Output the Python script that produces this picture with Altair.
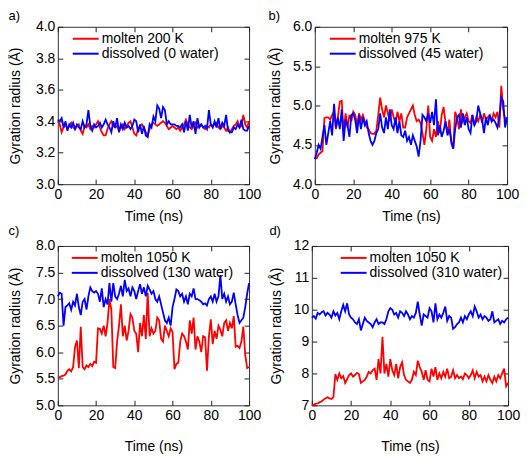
import altair as alt
import pandas as pd

time_ns = list(range(101))

a_molten = [3.40,3.38,3.33,3.36,3.38,3.35,3.37,3.39,3.36,3.35,3.37,3.38,3.34,3.32,3.37,3.36,3.38,3.35,3.37,3.36,
            3.38,3.40,3.36,3.33,3.31,3.31,3.35,3.38,3.40,3.37,3.36,3.37,3.34,3.36,3.38,3.35,3.37,3.39,3.40,3.36,
            3.32,3.31,3.35,3.37,3.38,3.36,3.33,3.31,3.35,3.38,3.39,3.38,3.37,3.38,3.39,3.40,3.39,3.37,3.35,3.36,
            3.37,3.36,3.35,3.36,3.34,3.36,3.38,3.41,3.38,3.36,3.35,3.37,3.39,3.36,3.37,3.38,3.36,3.35,3.37,3.36,
            3.38,3.37,3.38,3.39,3.36,3.35,3.37,3.36,3.34,3.36,3.33,3.35,3.37,3.38,3.40,3.36,3.37,3.44,3.38,3.36,3.40]
a_dissolved = [3.41,3.40,3.42,3.36,3.40,3.34,3.38,3.36,3.39,3.35,3.38,3.36,3.35,3.40,3.36,3.38,3.47,3.37,3.34,3.38,
               3.36,3.37,3.39,3.36,3.38,3.41,3.38,3.36,3.33,3.40,3.36,3.42,3.33,3.38,3.35,3.39,3.36,3.37,3.35,3.37,
               3.41,3.40,3.33,3.38,3.32,3.37,3.31,3.30,3.38,3.36,3.43,3.40,3.50,3.48,3.42,3.49,3.47,3.38,3.40,3.38,
               3.38,3.38,3.37,3.37,3.36,3.38,3.33,3.40,3.34,3.44,3.36,3.40,3.32,3.42,3.36,3.38,3.36,3.37,3.35,3.47,
               3.38,3.36,3.40,3.36,3.42,3.35,3.39,3.37,3.44,3.34,3.33,3.33,3.36,3.35,3.38,3.36,3.41,3.35,3.34,3.34,3.37]

b_molten = [4.32,4.33,4.38,4.40,4.42,4.84,4.85,4.85,4.82,4.88,4.92,4.70,4.85,5.05,5.06,4.65,4.90,4.72,4.88,4.80,
            4.92,4.88,4.75,4.90,4.82,4.88,4.80,4.72,4.70,4.65,4.64,4.64,4.68,4.88,5.10,4.95,4.85,5.00,4.90,4.80,
            4.95,4.85,4.78,4.92,4.80,4.90,4.72,4.72,4.85,4.90,4.95,5.00,4.88,4.80,4.82,4.78,4.65,4.50,4.70,5.00,
            4.60,4.55,4.70,4.60,4.80,4.65,4.88,4.98,4.78,4.65,4.82,4.52,4.45,4.92,4.85,4.70,4.95,4.80,4.85,4.90,
            4.80,4.78,4.88,4.75,4.85,4.80,4.88,4.78,4.90,4.82,4.85,4.88,4.80,4.90,4.85,4.92,4.72,5.25,4.95,4.82,4.85]
b_dissolved = [4.32,4.40,4.50,4.45,4.60,4.75,4.50,4.65,4.80,4.62,5.02,4.72,4.85,4.70,4.95,4.55,4.82,4.75,4.60,4.88,
               4.90,4.82,4.65,4.88,4.70,4.85,4.75,4.80,4.65,4.55,4.50,4.55,4.65,4.70,4.90,4.72,4.65,4.85,4.70,4.95,
               4.75,4.70,4.85,4.65,4.80,4.62,4.60,4.68,4.55,4.60,4.50,4.62,4.55,4.48,4.35,4.55,4.88,4.85,4.80,4.90,
               4.78,4.92,4.75,5.08,4.62,4.75,4.60,4.68,4.80,4.62,4.70,4.55,4.45,4.70,4.85,4.88,4.72,4.90,4.75,4.85,
               4.70,4.65,4.88,4.75,4.80,5.00,4.90,4.82,4.65,4.85,4.75,4.88,4.80,4.82,4.78,4.72,4.85,5.10,5.05,4.72,4.85]

c_molten = [5.52,5.53,5.55,5.56,5.58,5.65,5.68,5.64,5.72,6.10,6.22,5.70,6.48,5.72,5.68,5.75,5.72,5.78,5.74,5.82,
            5.80,6.45,6.44,6.35,6.50,6.30,6.55,7.00,6.80,5.72,5.70,6.20,6.50,6.90,6.30,6.50,6.22,6.40,6.72,6.65,
            6.40,6.35,6.00,6.55,6.30,6.70,6.25,7.12,6.30,6.45,6.35,6.40,6.65,6.60,6.25,6.20,6.50,6.40,6.30,6.45,
            6.38,5.68,5.78,5.80,6.20,6.35,6.30,6.20,6.05,6.60,6.35,6.65,6.05,6.30,6.20,6.00,6.30,6.28,5.65,6.30,
            6.62,6.15,6.40,6.25,6.50,6.42,6.30,6.55,6.60,6.40,6.55,6.45,6.68,6.10,6.12,6.08,6.20,6.48,5.95,5.70,5.72]
c_dissolved = [7.05,7.12,7.10,6.50,6.85,6.88,6.92,6.80,6.95,6.88,7.10,6.85,6.70,6.95,7.00,6.80,7.05,7.22,7.15,7.12,
               7.15,7.10,6.95,7.20,6.85,7.00,6.90,7.30,6.95,7.30,7.05,7.00,7.10,7.25,7.05,7.36,7.15,7.20,7.05,7.22,
               7.15,7.00,7.15,7.28,7.10,7.22,7.05,7.25,7.18,7.10,7.15,7.00,6.95,7.05,6.90,6.75,6.60,6.55,6.65,6.50,
               6.85,7.00,7.18,7.15,7.05,7.10,6.95,7.05,6.90,7.10,7.05,7.20,7.00,7.00,6.98,6.95,6.90,6.92,6.88,7.00,
               7.05,6.95,7.10,6.95,7.05,7.45,7.00,7.10,6.95,7.05,6.90,6.95,7.12,6.90,6.70,6.55,6.60,6.65,6.85,7.10,7.30]

d_molten = [7.00,7.02,7.05,7.06,7.10,7.12,7.18,7.22,7.25,7.22,7.20,7.25,7.98,7.80,8.00,7.85,7.92,7.70,7.82,7.95,
            8.00,7.90,7.95,8.02,7.98,7.70,7.75,7.80,7.90,8.05,8.00,8.10,8.15,7.80,8.45,8.00,9.15,8.00,8.30,7.90,
            8.45,8.10,7.95,8.30,7.85,8.20,8.35,7.95,7.80,7.75,7.70,7.80,8.05,7.95,8.40,8.20,8.05,7.80,8.10,7.80,
            7.75,8.15,7.90,8.20,7.80,8.00,7.85,8.05,7.90,8.15,7.85,7.90,8.10,7.85,7.95,7.85,7.90,7.82,8.00,7.95,
            7.85,7.95,8.10,7.85,8.05,7.90,7.95,7.75,7.90,7.75,7.95,7.80,7.70,7.90,7.75,7.95,7.85,8.00,8.15,7.60,7.70]
d_dissolved = [9.75,9.80,9.72,9.90,9.85,9.92,9.95,9.82,9.90,9.85,9.75,9.95,9.82,9.90,9.70,9.95,10.15,9.95,10.20,9.85,
               9.75,9.70,9.60,9.55,9.70,9.35,9.55,9.75,9.65,9.60,9.55,9.45,9.60,9.70,9.55,9.60,9.60,9.55,9.70,9.95,
               10.05,10.00,9.85,9.90,9.75,9.95,9.90,9.80,9.95,9.85,9.70,9.80,9.75,9.90,10.25,9.85,9.50,9.85,9.80,9.75,
               10.05,9.95,9.60,10.20,9.70,9.85,9.75,9.90,10.10,9.65,9.80,9.75,9.40,9.45,9.55,9.60,9.75,9.60,9.80,9.70,
               9.85,9.95,9.80,10.10,9.95,9.75,9.85,9.70,9.80,9.75,9.65,9.70,9.95,9.60,9.65,9.70,9.55,9.65,9.60,9.70,9.75]

x_ticks = [0, 20, 40, 60, 80, 100]

panels = [
    dict(tag="a)", mol="molten 200 K", dis="dissolved (0 water)", dom=[3.0, 4.0],
         ticks=[3.0, 3.2, 3.4, 3.6, 3.8, 4.0], fmt=".1f", m=a_molten, d=a_dissolved,
         w=192, h=158, ytp=13, xtp=8, lx=20, ly=4, toff=-3),
    dict(tag="b)", mol="molten 975 K", dis="dissolved (45 water)", dom=[4.0, 6.0],
         ticks=[4.0, 4.5, 5.0, 5.5, 6.0], fmt=".1f", m=b_molten, d=b_dissolved,
         w=193, h=158, ytp=10, xtp=8, lx=20, ly=4, toff=-3),
    dict(tag="c)", mol="molten 1050 K", dis="dissolved (130 water)", dom=[5.0, 8.0],
         ticks=[5.0, 5.5, 6.0, 6.5, 7.0, 7.5, 8.0], fmt=".1f", m=c_molten, d=c_dissolved,
         w=192, h=160, ytp=13, xtp=17, lx=19, ly=4, toff=1),
    dict(tag="d)", mol="molten 1050 K", dis="dissolved (310 water)", dom=[7, 12],
         ticks=[7, 8, 9, 10, 11, 12], fmt="d", m=d_molten, d=d_dissolved,
         w=197, h=160, ytp=10, xtp=17, lx=34, ly=4, toff=1),
]

FONT = "Liberation Sans"


def make_panel(p):
    n = len(time_ns)
    df = pd.DataFrame({
        "t": time_ns + time_ns,
        "v": p["m"] + p["d"],
        "s": [p["mol"]] * n + [p["dis"]] * n,
    })
    xs = alt.Scale(domain=[0, 100], nice=False)
    ys = alt.Scale(domain=p["dom"], nice=False, zero=False)
    bottom = alt.Axis(orient="bottom", values=x_ticks, format="d", offset=-5, tickSize=5,
                      domain=False, grid=False, labelPadding=3, labelFlush=False,
                      title="Time (ns)", titlePadding=p["xtp"])
    left = alt.Axis(orient="left", values=p["ticks"], format=p["fmt"], offset=-5, tickSize=5,
                    domain=False, grid=False, labelPadding=3, labelFlush=False,
                    title="Gyration radius (Å)", titlePadding=p["ytp"])
    top = alt.Axis(orient="top", values=x_ticks, offset=-5, tickSize=5, domain=False,
                   grid=False, labels=False, title=None, minExtent=0, maxExtent=0)
    right = alt.Axis(orient="right", values=p["ticks"], offset=-5, tickSize=5, domain=False,
                     grid=False, labels=False, title=None, minExtent=0, maxExtent=0)
    lines = alt.Chart(df).mark_line(strokeWidth=1.8).encode(
        x=alt.X("t:Q", scale=xs, axis=bottom),
        y=alt.Y("v:Q", scale=ys, axis=left),
        color=alt.Color("s:N",
                        scale=alt.Scale(domain=[p["mol"], p["dis"]], range=["#ff0000", "#0000ff"]),
                        legend=alt.Legend(title=None, orient="none", legendX=p["lx"], legendY=p["ly"],
                                          symbolType="M-1.857,0H1.857", symbolSize=196,
                                          symbolStrokeWidth=2, labelFontSize=14, labelFont=FONT,
                                          labelOffset=8, rowPadding=-6, padding=0)),
    )
    frame = alt.Chart(df).mark_line(opacity=0).encode(
        x=alt.X("t:Q", scale=xs, axis=top),
        y=alt.Y("v:Q", scale=ys, axis=right),
        detail="s:N",
    )
    return alt.layer(lines, frame).resolve_axis(x="independent", y="independent").properties(
        width=p["w"], height=p["h"],
        title=alt.TitleParams(p["tag"], anchor="start", frame="bounds", fontSize=13,
                              fontWeight="normal", font=FONT, offset=p["toff"], color="black"),
    )


pa, pb, pc, pd_ = [make_panel(p) for p in panels]
row1 = alt.hconcat(pa, pb, spacing=6).resolve_scale(color="independent")
row2 = alt.hconcat(pc, pd_, spacing=6).resolve_scale(color="independent")
chart = alt.vconcat(row1, row2, spacing=0, padding=0).resolve_scale(color="independent").configure_axis(
    labelFont=FONT, titleFont=FONT, labelFontSize=14, titleFontSize=14, titleFontWeight="normal",
    labelColor="black", titleColor="black", tickColor="#222", tickWidth=1,
).configure_view(stroke="#333", strokeWidth=1).configure_legend(labelColor="black")

chart.save("out.html", embed_options={"renderer": "svg", "actions": False})
